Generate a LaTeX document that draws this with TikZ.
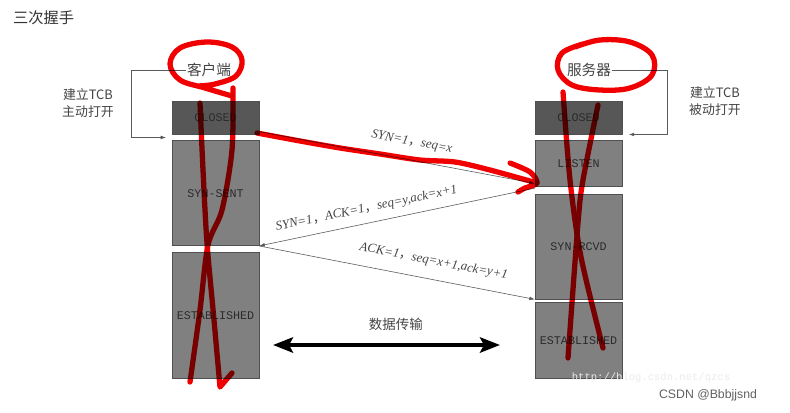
\documentclass[tikz,border=0pt]{standalone}
\usepackage{fontspec}
\setmainfont{Liberation Serif}
\newfontfamily\cjk{Noto Sans CJK SC}
\newfontfamily\hsmono{Liberation Mono}
\newfontfamily\hssans{Liberation Sans}
\usepackage{tikz}
\usetikzlibrary{arrows.meta,positioning,calc}
\definecolor{hsdark}{HTML}{575757}
\definecolor{hsmid}{HTML}{808080}
\definecolor{hsedge}{HTML}{505050}
\definecolor{hstext}{HTML}{2B2B2B}
\definecolor{hsline}{HTML}{5A5A5A}
\definecolor{hsnote}{HTML}{444444}
\definecolor{hsred}{HTML}{F00000}
\newcommand{\hscomma}{{\cjk\upshape ，}}
\tikzset{
  hsstate/.style={
    draw=hsedge,
    fill=hsmid,
    thin,
    inner sep=0pt,
    minimum width=2.6cm,
    font=\hsmono\fontsize{10}{12}\selectfont,
    text=hstext
  },
  hsclosed/.style={hsstate,fill=hsdark,minimum height=0.99cm},
  hsmsg/.style={-{Latex[length=1.7mm,width=1.1mm]},hsline,line width=0.5pt},
  hsmsglabel/.style={font=\itshape\fontsize{11}{13}\selectfont,text=hsnote,
                     sloped,inner sep=1pt},
  hsloop/.style={-{Latex[length=1.6mm,width=1.1mm]},hsline,line width=0.5pt},
  hspeer/.style={font=\cjk\fontsize{12.5}{14}\selectfont,text=hsnote,inner sep=1pt},
  hsside/.style={font=\cjk\fontsize{11}{15}\selectfont,text=hsnote,align=center},
  hsdata/.style={{Stealth[length=6mm,width=4.6mm,inset=1.2mm]}-{Stealth[length=6mm,width=4.6mm,inset=1.2mm]},
                 line width=3.2pt,black},
  hsscribble/.style={hsred,line width=4.5pt,line cap=round,line join=round}
}
\begin{document}
\begin{tikzpicture}[x=0.03cm,y=-0.03cm]
  \useasboundingbox[fill=white] (0,0) rectangle (790,412);
  \node[anchor=west,font=\cjk\fontsize{13}{15}\selectfont,text=black!80] (title) at (9,18) {三次握手};

  % client column
  \node[hsclosed,anchor=north west] (cclosed) at (172,101) {CLOSED};
  \node[hsstate,below=0.18cm of cclosed,minimum height=3.15cm] (csynsent) {SYN-SENT};
  \node[hsstate,below=0.18cm of csynsent,minimum height=3.78cm] (cestab) {ESTABLISHED};

  % server column
  \node[hsclosed,anchor=north west] (sclosed) at (535,101) {CLOSED};
  \node[hsstate,below=0.18cm of sclosed,minimum height=1.38cm] (slisten) {LISTEN};
  \node[hsstate,below=0.21cm of slisten,minimum height=3.15cm] (ssynrcvd) {SYN-RCVD};
  \node[hsstate,below=0.09cm of ssynrcvd,minimum height=2.28cm] (sestab) {ESTABLISHED};

  \node[hspeer] (clabel) at (209,70) {客户端};
  \node[hspeer] (slabel) at (589,70) {服务器};
  \node[hsside] (cnote) at (88,103) {建立TCB\\主动打开};
  \node[hsside] (snote) at (715,101) {建立TCB\\被动打开};

  \coordinate (cbend) at (131,70);
  \coordinate (sbend) at (667,70);
  \draw[hsloop,shorten >=0.18cm] (clabel.west) -- (cbend)
    |- ($(cclosed.south west)!0.5!(csynsent.north west)$);
  \draw[hsloop,shorten >=0.2cm] (slabel.east) -- (sbend) |- (sclosed.south east);

  % handshake messages
  \draw[hsmsg] ([yshift=2.5pt]cclosed.south east) -- ([yshift=3pt]slisten.south west)
    node[hsmsglabel,midway,above=9pt,xshift=10pt] {SYN=1\hscomma seq=x};
  \draw[hsmsg] ([yshift=-1pt]slisten.south west) -- (csynsent.south east)
    node[hsmsglabel,pos=0.6,above=6pt] {SYN=1\hscomma ACK=1\hscomma seq=y,ack=x+1};
  \draw[hsmsg] (csynsent.south east) -- (ssynrcvd.south west)
    node[hsmsglabel,pos=0.62,above=9pt] {ACK=1\hscomma seq=x+1,ack=y+1};

  \coordinate (dl) at (273,345);
  \coordinate (dr) at (500,345);
  \draw[hsdata] (dl) -- (dr)
    node[midway,above=7pt,xshift=8pt,font=\cjk\fontsize{11.5}{14}\selectfont,text=hsnote] (data) {数据传输};

  \node[font=\hsmono\fontsize{9}{11}\selectfont,text=black!8] (mark) at (651,378) {http://blog.csdn.net/qzcs};
  \node[font=\hssans\fontsize{10.5}{12}\selectfont,text=black!62] (csdn) at (708,395) {CSDN @Bbbjjsnd};

  % red pen marks
  \begin{scope}[blend mode=multiply]
    \draw[hsscribble] plot[smooth,tension=0.6] coordinates
      {(232,96) (205,88) (180,80) (170,64) (180,48) (207,42) (232,47) (242,60) (236,76) (215,84) (198,86)};
    \draw[hsscribble] plot[smooth,tension=0.6] coordinates
      {(575,47) (600,40) (630,42) (652,55) (652,75) (630,88) (600,90) (572,85) (558,70) (562,53) (583,44)};
    \draw[hsscribble] plot[smooth,tension=0.5] coordinates
      {(200,103) (203,170) (207,243) (214,320) (220,387)} -- (232,373);
    \draw[hsscribble] plot[smooth,tension=0.5] coordinates
      {(233,88) (232,150) (222,210) (208,245) (200,310) (190,382)};
    \draw[hsscribble] plot[smooth,tension=0.5] coordinates
      {(563,92) (570,180) (581,257) (603,348)};
    \draw[hsscribble] plot[smooth,tension=0.5] coordinates
      {(598,105) (583,180) (578,223) (568,358)};
    \draw[hsscribble] plot[smooth,tension=0.5] coordinates
      {(257,133) (300,141) (340,148) (380,154) (420,160) (455,162) (490,170) (537,183)};
    \draw[hsscribble] plot[smooth,tension=0.5] coordinates
      {(510,163) (530,172) (537,183) (525,188) (518,192)};
  \end{scope}
\end{tikzpicture}
\end{document}
